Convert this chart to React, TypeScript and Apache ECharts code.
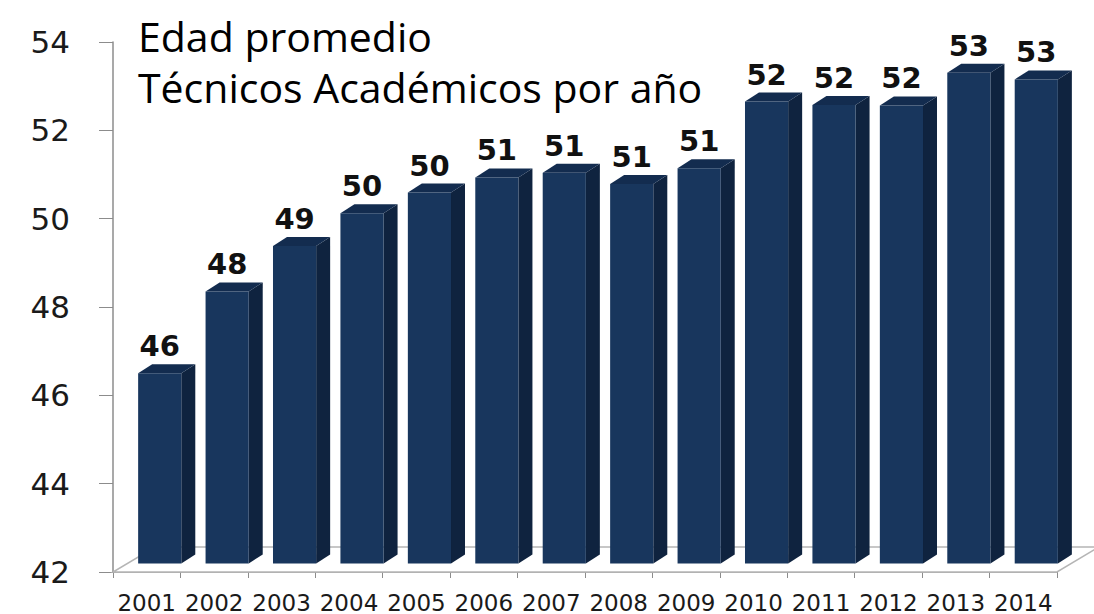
import { useEffect, useRef } from "react";
import * as echarts from "echarts";

const years = ["2001", "2002", "2003", "2004", "2005", "2006", "2007", "2008", "2009", "2010", "2011", "2012", "2013", "2014"];
const edadPromedio = [46.31, 48.16, 49.19, 49.93, 50.4, 50.74, 50.85, 50.59, 50.95, 52.46, 52.38, 52.37, 53.11, 52.96];
const yMin = 42;
const yMax = 54;
const yInterval = 2;
const titleLines = ["Edad promedio", "Técnicos Académicos por año"];

const FRONT = "#18365d";
const SIDE = "#0f233f";
const TOP = "#132c4f";

export default function App() {
  const ref = useRef<HTMLDivElement>(null);
  useEffect(() => {
    const chart = echarts.init(ref.current!, null, { renderer: "svg" });
    const DX = 14, DY = -9; // bar depth
    const OX = 13, OY = -8.5; // bar front offset from floor front edge
    const FX = 42, FY = -25; // floor depth

    const floorRender = (params: any) => {
      const cs = params.coordSys;
      const x0 = cs.x, x1 = cs.x + cs.width, y0 = cs.y + cs.height;
      return {
        type: "polygon",
        shape: { points: [[x0, y0], [x1, y0], [x1 + FX, y0 + FY], [x0 + FX, y0 + FY]] },
        style: { fill: "#ffffff", stroke: "#b5b5b5", lineWidth: 1.5 },
      };
    };

    const barRender = (_params: any, api: any) => {
      const i = api.value(0);
      const v = api.value(1);
      const top = api.coord([i, v]);
      const base = api.coord([i, yMin]);
      const bw = api.size([1, 0])[0] * 0.64;
      const cx = top[0];
      const xL = cx + OX - bw / 2;
      const xR = xL + bw;
      const yT = top[1] + OY;
      const yB = base[1] + OY;
      return {
        type: "group",
        children: [
          { type: "polygon", shape: { points: [[xR, yT], [xR + DX, yT + DY], [xR + DX, yB + DY], [xR, yB]] }, style: { fill: SIDE } },
          { type: "polygon", shape: { points: [[xL, yT], [xL + DX, yT + DY], [xR + DX, yT + DY], [xR, yT]] }, style: { fill: TOP } },
          { type: "rect", shape: { x: xL, y: yT, width: bw, height: yB - yT }, style: { fill: FRONT } },
          {
            type: "text",
            style: {
              text: String(Math.round(v)),
              x: xL + bw / 2,
              y: yT - 27,
              align: "center",
              verticalAlign: "middle",
              fontFamily: "DejaVu Sans",
              fontWeight: "bold",
              fontSize: 29,
              fill: "#111111",
            },
          },
        ],
      };
    };

    chart.setOption({
      animation: false,
      backgroundColor: "#ffffff",
      title: {
        text: titleLines.join("\n"),
        left: 133,
        top: 5,
        textStyle: { fontFamily: "Open Sans", fontSize: 41, lineHeight: 51, fontWeight: "normal", color: "#000000" },
      },
      grid: { left: 113, right: 37, top: 42, bottom: 42 },
      xAxis: {
        type: "category",
        data: years,
        axisLine: { lineStyle: { color: "#8c8c8c", width: 1.5 } },
        axisTick: { show: true, length: 6, lineStyle: { color: "#8c8c8c" } },
        axisLabel: { interval: 0, fontFamily: "DejaVu Sans", fontSize: 23, color: "#1a1a1a", margin: 19 },
        splitLine: { show: false },
      },
      yAxis: {
        type: "value",
        min: yMin,
        max: yMax,
        interval: yInterval,
        axisLine: { show: true, lineStyle: { color: "#8c8c8c", width: 1.5 } },
        axisTick: { show: true, length: 14, lineStyle: { color: "#8c8c8c" } },
        axisLabel: { fontFamily: "DejaVu Sans", fontSize: 31, color: "#1a1a1a", margin: 43 },
        splitLine: { show: false },
      },
      series: [
        { type: "custom", renderItem: floorRender, data: [[0, yMin]], z: 1, silent: true },
        {
          type: "custom",
          renderItem: barRender,
          data: years.map((_, i) => [i, edadPromedio[i]]),
          encode: { x: 0, y: 1 },
          z: 2,
        },
      ],
    });
    return () => chart.dispose();
  }, []);
  return <div ref={ref} style={{ position: "fixed", left: 0, top: 0, width: 1094, height: 614 }} />;
}
